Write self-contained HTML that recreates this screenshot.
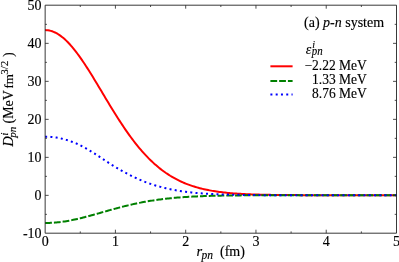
<!DOCTYPE html>
<html><head><meta charset="utf-8"><title>plot</title>
<style>
html,body{margin:0;padding:0;background:#fff;}
svg{display:block;font-family:"Liberation Serif",serif;font-size:14px;fill:#000;}
.i{font-style:italic;}
</style></head><body>
<svg width="399" height="262" viewBox="0 0 399 262">
<defs><filter id="soft" x="0" y="0" width="399" height="262" filterUnits="userSpaceOnUse"><feGaussianBlur stdDeviation="0.3"/></filter></defs>
<rect width="399" height="262" fill="#fff"/>
<g fill="none" stroke-width="2" stroke-linejoin="round">
<path d="M45.15,30.10 L46.56,30.15 L47.96,30.30 L49.37,30.54 L50.77,30.88 L52.18,31.31 L53.58,31.84 L54.99,32.46 L56.39,33.18 L57.80,33.98 L59.20,34.88 L60.61,35.86 L62.01,36.93 L63.42,38.09 L64.83,39.32 L66.23,40.64 L67.64,42.03 L69.04,43.50 L70.45,45.04 L71.85,46.66 L73.26,48.33 L74.66,50.07 L76.07,51.88 L77.47,53.74 L78.88,55.65 L80.28,57.62 L81.69,59.63 L83.10,61.69 L84.50,63.79 L85.91,65.93 L87.31,68.11 L88.72,70.32 L90.12,72.55 L91.53,74.82 L92.93,77.10 L94.34,79.40 L95.74,81.72 L97.15,84.06 L98.56,86.40 L99.96,88.75 L101.37,91.10 L102.77,93.46 L104.18,95.81 L105.58,98.16 L106.99,100.50 L108.39,102.83 L109.80,105.15 L111.20,107.46 L112.61,109.75 L114.01,112.02 L115.42,114.28 L116.83,116.51 L118.23,118.71 L119.64,120.89 L121.04,123.05 L122.45,125.17 L123.85,127.27 L125.26,129.33 L126.66,131.36 L128.07,133.36 L129.47,135.32 L130.88,137.25 L132.28,139.14 L133.69,140.99 L135.10,142.81 L136.50,144.59 L137.91,146.32 L139.31,148.03 L140.72,149.69 L142.12,151.31 L143.53,152.89 L144.93,154.43 L146.34,155.94 L147.74,157.40 L149.15,158.83 L150.56,160.21 L151.96,161.56 L153.37,162.87 L154.77,164.14 L156.18,165.37 L157.58,166.57 L158.99,167.73 L160.39,168.85 L161.80,169.94 L163.20,170.99 L164.61,172.00 L166.01,172.99 L167.42,173.94 L168.83,174.85 L170.23,175.74 L171.64,176.59 L173.04,177.41 L174.45,178.21 L175.85,178.97 L177.26,179.70 L178.66,180.41 L180.07,181.09 L181.47,181.75 L182.88,182.37 L184.28,182.98 L185.69,183.56 L187.10,184.11 L188.50,184.64 L189.91,185.16 L191.31,185.65 L192.72,186.11 L194.12,186.56 L195.53,186.99 L196.93,187.40 L198.34,187.80 L199.74,188.17 L201.15,188.53 L202.55,188.87 L203.96,189.20 L205.37,189.51 L206.77,189.81 L208.18,190.10 L209.58,190.37 L210.99,190.62 L212.39,190.87 L213.80,191.10 L215.20,191.33 L216.61,191.54 L218.01,191.74 L219.42,191.93 L220.83,192.11 L222.23,192.28 L223.64,192.45 L225.04,192.60 L226.45,192.75 L227.85,192.89 L229.26,193.02 L230.66,193.15 L232.07,193.27 L233.47,193.38 L234.88,193.49 L236.28,193.59 L237.69,193.69 L239.10,193.78 L240.50,193.86 L241.91,193.94 L243.31,194.02 L244.72,194.09 L246.12,194.16 L247.53,194.22 L248.93,194.28 L250.34,194.34 L251.74,194.39 L253.15,194.44 L254.55,194.49 L255.96,194.54 L257.37,194.58 L258.77,194.62 L260.18,194.66 L261.58,194.69 L262.99,194.72 L264.39,194.75 L265.80,194.78 L267.20,194.81 L268.61,194.84 L270.01,194.86 L271.42,194.88 L272.82,194.90 L274.23,194.92 L275.64,194.94 L277.04,194.96 L278.45,194.98 L279.85,194.99 L281.26,195.01 L282.66,195.02 L284.07,195.03 L285.47,195.04 L286.88,195.06 L288.28,195.07 L289.69,195.07 L291.10,195.08 L292.50,195.09 L293.91,195.10 L295.31,195.11 L296.72,195.11 L298.12,195.12 L299.53,195.13 L300.93,195.13 L302.34,195.14 L303.74,195.14 L305.15,195.15 L306.55,195.15 L307.96,195.15 L309.37,195.16 L310.77,195.16 L312.18,195.16 L313.58,195.17 L314.99,195.17 L316.39,195.17 L317.80,195.17 L319.20,195.18 L320.61,195.18 L322.01,195.18 L323.42,195.18 L324.82,195.18 L326.23,195.18 L327.64,195.18 L329.04,195.19 L330.45,195.19 L331.85,195.19 L333.26,195.19 L334.66,195.19 L336.07,195.19 L337.47,195.19 L338.88,195.19 L340.28,195.19 L341.69,195.19 L343.09,195.19 L344.50,195.19 L345.91,195.19 L347.31,195.20 L348.72,195.20 L350.12,195.20 L351.53,195.20 L352.93,195.20 L354.34,195.20 L355.74,195.20 L357.15,195.20 L358.55,195.20 L359.96,195.20 L361.37,195.20 L362.77,195.20 L364.18,195.20 L365.58,195.20 L366.99,195.20 L368.39,195.20 L369.80,195.20 L371.20,195.20 L372.61,195.20 L374.01,195.20 L375.42,195.20 L376.82,195.20 L378.23,195.20 L379.64,195.20 L381.04,195.20 L382.45,195.20 L383.85,195.20 L385.26,195.20 L386.66,195.20 L388.07,195.20 L389.47,195.20 L390.88,195.20 L392.28,195.20 L393.69,195.20 L395.09,195.20 L396.50,195.20" stroke="#ff0000"/>
<path d="M45.15,222.98 L46.56,222.97 L47.96,222.94 L49.37,222.90 L50.77,222.84 L52.18,222.77 L53.58,222.68 L54.99,222.57 L56.39,222.45 L57.80,222.31 L59.20,222.16 L60.61,221.99 L62.01,221.80 L63.42,221.61 L64.83,221.40 L66.23,221.17 L67.64,220.93 L69.04,220.68 L70.45,220.41 L71.85,220.14 L73.26,219.85 L74.66,219.55 L76.07,219.24 L77.47,218.93 L78.88,218.60 L80.28,218.26 L81.69,217.92 L83.10,217.57 L84.50,217.21 L85.91,216.84 L87.31,216.47 L88.72,216.09 L90.12,215.71 L91.53,215.32 L92.93,214.93 L94.34,214.54 L95.74,214.14 L97.15,213.74 L98.56,213.34 L99.96,212.94 L101.37,212.54 L102.77,212.14 L104.18,211.74 L105.58,211.34 L106.99,210.94 L108.39,210.54 L109.80,210.15 L111.20,209.76 L112.61,209.37 L114.01,208.98 L115.42,208.60 L116.83,208.22 L118.23,207.85 L119.64,207.48 L121.04,207.11 L122.45,206.75 L123.85,206.40 L125.26,206.05 L126.66,205.70 L128.07,205.37 L129.47,205.03 L130.88,204.71 L132.28,204.39 L133.69,204.08 L135.10,203.77 L136.50,203.47 L137.91,203.18 L139.31,202.89 L140.72,202.61 L142.12,202.34 L143.53,202.08 L144.93,201.82 L146.34,201.56 L147.74,201.32 L149.15,201.08 L150.56,200.85 L151.96,200.62 L153.37,200.41 L154.77,200.19 L156.18,199.99 L157.58,199.79 L158.99,199.60 L160.39,199.41 L161.80,199.23 L163.20,199.06 L164.61,198.89 L166.01,198.73 L167.42,198.57 L168.83,198.42 L170.23,198.27 L171.64,198.13 L173.04,198.00 L174.45,197.87 L175.85,197.74 L177.26,197.62 L178.66,197.51 L180.07,197.40 L181.47,197.29 L182.88,197.19 L184.28,197.09 L185.69,197.00 L187.10,196.91 L188.50,196.82 L189.91,196.74 L191.31,196.66 L192.72,196.58 L194.12,196.51 L195.53,196.44 L196.93,196.38 L198.34,196.32 L199.74,196.26 L201.15,196.20 L202.55,196.15 L203.96,196.09 L205.37,196.04 L206.77,196.00 L208.18,195.95 L209.58,195.91 L210.99,195.87 L212.39,195.83 L213.80,195.80 L215.20,195.76 L216.61,195.73 L218.01,195.70 L219.42,195.67 L220.83,195.64 L222.23,195.61 L223.64,195.59 L225.04,195.57 L226.45,195.54 L227.85,195.52 L229.26,195.50 L230.66,195.48 L232.07,195.47 L233.47,195.45 L234.88,195.43 L236.28,195.42 L237.69,195.40 L239.10,195.39 L240.50,195.38 L241.91,195.37 L243.31,195.36 L244.72,195.35 L246.12,195.34 L247.53,195.33 L248.93,195.32 L250.34,195.31 L251.74,195.30 L253.15,195.30 L254.55,195.29 L255.96,195.28 L257.37,195.28 L258.77,195.27 L260.18,195.27 L261.58,195.26 L262.99,195.26 L264.39,195.25 L265.80,195.25 L267.20,195.25 L268.61,195.24 L270.01,195.24 L271.42,195.24 L272.82,195.23 L274.23,195.23 L275.64,195.23 L277.04,195.23 L278.45,195.22 L279.85,195.22 L281.26,195.22 L282.66,195.22 L284.07,195.22 L285.47,195.22 L286.88,195.22 L288.28,195.21 L289.69,195.21 L291.10,195.21 L292.50,195.21 L293.91,195.21 L295.31,195.21 L296.72,195.21 L298.12,195.21 L299.53,195.21 L300.93,195.21 L302.34,195.21 L303.74,195.21 L305.15,195.20 L306.55,195.20 L307.96,195.20 L309.37,195.20 L310.77,195.20 L312.18,195.20 L313.58,195.20 L314.99,195.20 L316.39,195.20 L317.80,195.20 L319.20,195.20 L320.61,195.20 L322.01,195.20 L323.42,195.20 L324.82,195.20 L326.23,195.20 L327.64,195.20 L329.04,195.20 L330.45,195.20 L331.85,195.20 L333.26,195.20 L334.66,195.20 L336.07,195.20 L337.47,195.20 L338.88,195.20 L340.28,195.20 L341.69,195.20 L343.09,195.20 L344.50,195.20 L345.91,195.20 L347.31,195.20 L348.72,195.20 L350.12,195.20 L351.53,195.20 L352.93,195.20 L354.34,195.20 L355.74,195.20 L357.15,195.20 L358.55,195.20 L359.96,195.20 L361.37,195.20 L362.77,195.20 L364.18,195.20 L365.58,195.20 L366.99,195.20 L368.39,195.20 L369.80,195.20 L371.20,195.20 L372.61,195.20 L374.01,195.20 L375.42,195.20 L376.82,195.20 L378.23,195.20 L379.64,195.20 L381.04,195.20 L382.45,195.20 L383.85,195.20 L385.26,195.20 L386.66,195.20 L388.07,195.20 L389.47,195.20 L390.88,195.20 L392.28,195.20 L393.69,195.20 L395.09,195.20 L396.50,195.20" stroke="#008000" stroke-dasharray="6.76 2.0"/>
<path d="M45.15,136.79 L46.56,136.77 L47.96,136.78 L49.37,136.82 L50.77,136.89 L52.18,137.00 L53.58,137.15 L54.99,137.32 L56.39,137.53 L57.80,137.77 L59.20,138.05 L60.61,138.35 L62.01,138.68 L63.42,139.04 L64.83,139.43 L66.23,139.84 L67.64,140.28 L69.04,140.75 L70.45,141.25 L71.85,141.76 L73.26,142.28 L74.66,142.82 L76.07,143.39 L77.47,143.99 L78.88,144.63 L80.28,145.33 L81.69,146.06 L83.10,146.81 L84.50,147.58 L85.91,148.36 L87.31,149.16 L88.72,149.98 L90.12,150.80 L91.53,151.64 L92.93,152.51 L94.34,153.40 L95.74,154.30 L97.15,155.22 L98.56,156.14 L99.96,157.06 L101.37,157.99 L102.77,158.92 L104.18,159.85 L105.58,160.79 L106.99,161.73 L108.39,162.65 L109.80,163.56 L111.20,164.45 L112.61,165.32 L114.01,166.18 L115.42,167.03 L116.83,167.86 L118.23,168.68 L119.64,169.50 L121.04,170.30 L122.45,171.08 L123.85,171.86 L125.26,172.62 L126.66,173.37 L128.07,174.11 L129.47,174.83 L130.88,175.55 L132.28,176.25 L133.69,176.94 L135.10,177.61 L136.50,178.27 L137.91,178.91 L139.31,179.53 L140.72,180.13 L142.12,180.71 L143.53,181.28 L144.93,181.83 L146.34,182.36 L147.74,182.88 L149.15,183.38 L150.56,183.87 L151.96,184.34 L153.37,184.80 L154.77,185.24 L156.18,185.67 L157.58,186.08 L158.99,186.48 L160.39,186.86 L161.80,187.23 L163.20,187.59 L164.61,187.93 L166.01,188.27 L167.42,188.59 L168.83,188.90 L170.23,189.19 L171.64,189.48 L173.04,189.75 L174.45,190.02 L175.85,190.28 L177.26,190.52 L178.66,190.76 L180.07,190.99 L181.47,191.20 L182.88,191.41 L184.28,191.61 L185.69,191.80 L187.10,191.98 L188.50,192.15 L189.91,192.32 L191.31,192.47 L192.72,192.62 L194.12,192.76 L195.53,192.89 L196.93,193.01 L198.34,193.13 L199.74,193.25 L201.15,193.35 L202.55,193.45 L203.96,193.55 L205.37,193.64 L206.77,193.73 L208.18,193.81 L209.58,193.89 L210.99,193.96 L212.39,194.03 L213.80,194.10 L215.20,194.17 L216.61,194.23 L218.01,194.28 L219.42,194.34 L220.83,194.39 L222.23,194.44 L223.64,194.49 L225.04,194.53 L226.45,194.57 L227.85,194.61 L229.26,194.65 L230.66,194.68 L232.07,194.72 L233.47,194.75 L234.88,194.78 L236.28,194.81 L237.69,194.83 L239.10,194.86 L240.50,194.88 L241.91,194.90 L243.31,194.93 L244.72,194.95 L246.12,194.97 L247.53,194.99 L248.93,195.01 L250.34,195.02 L251.74,195.04 L253.15,195.06 L254.55,195.07 L255.96,195.09 L257.37,195.10 L258.77,195.12 L260.18,195.13 L261.58,195.14 L262.99,195.15 L264.39,195.16 L265.80,195.17 L267.20,195.17 L268.61,195.18 L270.01,195.18 L271.42,195.18 L272.82,195.19 L274.23,195.19 L275.64,195.19 L277.04,195.19 L278.45,195.19 L279.85,195.20 L281.26,195.20 L282.66,195.20 L284.07,195.20 L285.47,195.20 L286.88,195.20 L288.28,195.20 L289.69,195.20 L291.10,195.20 L292.50,195.20 L293.91,195.20 L295.31,195.20 L296.72,195.20 L298.12,195.20 L299.53,195.20 L300.93,195.20 L302.34,195.20 L303.74,195.20 L305.15,195.20 L306.55,195.20 L307.96,195.20 L309.37,195.20 L310.77,195.20 L312.18,195.20 L313.58,195.20 L314.99,195.20 L316.39,195.20 L317.80,195.20 L319.20,195.20 L320.61,195.20 L322.01,195.20 L323.42,195.20 L324.82,195.20 L326.23,195.20 L327.64,195.20 L329.04,195.20 L330.45,195.20 L331.85,195.20 L333.26,195.20 L334.66,195.20 L336.07,195.20 L337.47,195.20 L338.88,195.20 L340.28,195.20 L341.69,195.20 L343.09,195.20 L344.50,195.20 L345.91,195.20 L347.31,195.20 L348.72,195.20 L350.12,195.20 L351.53,195.20 L352.93,195.20 L354.34,195.20 L355.74,195.20 L357.15,195.20 L358.55,195.20 L359.96,195.20 L361.37,195.20 L362.77,195.20 L364.18,195.20 L365.58,195.20 L366.99,195.20 L368.39,195.20 L369.80,195.20 L371.20,195.20 L372.61,195.20 L374.01,195.20 L375.42,195.20 L376.82,195.20 L378.23,195.20 L379.64,195.20 L381.04,195.20 L382.45,195.20 L383.85,195.20 L385.26,195.20 L386.66,195.20 L388.07,195.20 L389.47,195.20 L390.88,195.20 L392.28,195.20 L393.69,195.20 L395.09,195.20 L396.50,195.20" stroke="#0000ff" stroke-dasharray="2 3.252"/>
</g>
<rect x="45.15" y="5.2" width="351.35" height="228.0" fill="none" stroke="#222" stroke-width="0.9" stroke-linejoin="round"/>
<path d="M80.28,233.2 v-1.8 M80.28,5.2 v1.8 M115.42,233.2 v-3.5 M115.42,5.2 v3.5 M150.56,233.2 v-1.8 M150.56,5.2 v1.8 M185.69,233.2 v-3.5 M185.69,5.2 v3.5 M220.83,233.2 v-1.8 M220.83,5.2 v1.8 M255.96,233.2 v-3.5 M255.96,5.2 v3.5 M291.10,233.2 v-1.8 M291.10,5.2 v1.8 M326.23,233.2 v-3.5 M326.23,5.2 v3.5 M361.37,233.2 v-1.8 M361.37,5.2 v1.8 M45.15,214.35 h1.8 M396.5,214.35 h-1.8 M45.15,195.35 h3.5 M396.5,195.35 h-3.5 M45.15,176.35 h1.8 M396.5,176.35 h-1.8 M45.15,157.35 h3.5 M396.5,157.35 h-3.5 M45.15,138.35 h1.8 M396.5,138.35 h-1.8 M45.15,119.35 h3.5 M396.5,119.35 h-3.5 M45.15,100.35 h1.8 M396.5,100.35 h-1.8 M45.15,81.35 h3.5 M396.5,81.35 h-3.5 M45.15,62.35 h1.8 M396.5,62.35 h-1.8 M45.15,43.35 h3.5 M396.5,43.35 h-3.5 M45.15,24.35 h1.8 M396.5,24.35 h-1.8" fill="none" stroke="#222" stroke-width="0.8"/>
<!-- x axis label -->
<g filter="url(#soft)" stroke="#000" stroke-width="0.15">
<text x="45.15" y="246" text-anchor="middle">0</text>
<text x="115.42" y="246" text-anchor="middle">1</text>
<text x="185.69" y="246" text-anchor="middle">2</text>
<text x="255.96" y="246" text-anchor="middle">3</text>
<text x="326.23" y="246" text-anchor="middle">4</text>
<text x="396.50" y="246" text-anchor="middle">5</text>
<text x="41.6" y="238.45" text-anchor="end">-10</text>
<text x="41.6" y="200.40" text-anchor="end">0</text>
<text x="41.6" y="162.35" text-anchor="end">10</text>
<text x="41.6" y="124.30" text-anchor="end">20</text>
<text x="41.6" y="86.25" text-anchor="end">30</text>
<text x="41.6" y="48.20" text-anchor="end">40</text>
<text x="41.6" y="10.15" text-anchor="end">50</text>
<text x="196.5" y="256" class="i" font-size="14.5px">r</text>
<text x="201.6" y="258.8" class="i" font-size="11.5px">pn</text>
<text x="220.0" y="256">(fm)</text>
<!-- y axis label -->
<g transform="translate(13.3,157) rotate(-90)">
<text x="10.6" y="0" class="i">D</text>
<text x="21.6" y="-5.8" class="i" font-size="10.5px">i</text>
<text x="19.3" y="2.8" class="i" font-size="11px">pn</text>
<text x="33.6" y="0" font-size="13.9px">(MeV</text>
<text x="68.5" y="0" font-size="13px">fm</text>
<text x="82.3" y="-5.3" font-size="11px">3/2</text>
<text x="99.9" y="0">)</text>
</g>
<!-- legend -->
<text x="304" y="27">(a) <tspan class="i">p</tspan>-<tspan class="i">n</tspan> system</text>
<text x="0" y="0" class="i" transform="translate(305.8,53.9) scale(1.0,1)">ε</text>
<text x="312.3" y="47.9" class="i" font-size="10px">i</text>
<text transform="translate(311.8,54.9) scale(0.95,1)" class="i" font-size="11.5px">pn</text>
<text transform="translate(366.8,70.0) scale(0.945,1)" text-anchor="end" font-size="14.3px">−2.22 MeV</text>
<text transform="translate(366.8,84.2) scale(0.945,1)" text-anchor="end" font-size="14.3px">1.33 MeV</text>
<text transform="translate(366.8,98.15) scale(0.945,1)" text-anchor="end" font-size="14.3px">8.76 MeV</text>
</g>
<g stroke-width="2" fill="none">
<path d="M270.4,66.3 H292.6" stroke="#ff0000"/>
<path d="M270.4,81.0 H292.6" stroke="#008000" stroke-dasharray="6.76 2.0"/>
<path d="M270.4,94.6 H292.6" stroke="#0000ff" stroke-dasharray="2 3.28"/>
</g>
</svg>
</body></html>
